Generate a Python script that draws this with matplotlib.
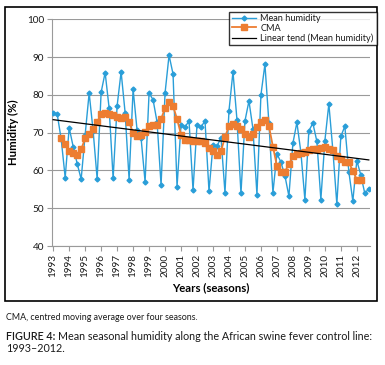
import matplotlib
matplotlib.use("Agg")
import matplotlib.pyplot as plt
from matplotlib.patches import Rectangle
import numpy as np

# Mean seasonal humidity (%), four seasons per year, 1993-2012
humidity = [
    75.2, 74.9, 68.3, 58.1, 71.3, 66.3, 61.8, 57.7,
    69.5, 80.5, 70.4, 57.8, 80.7, 85.9, 76.5, 57.9,
    77.1, 86.1, 75.3, 57.6, 81.5, 70.6, 68.5, 57.0,
    80.5, 78.7, 72.8, 56.1, 80.5, 90.5, 85.5, 55.7,
    72.1, 71.5, 73.1, 54.8, 72.1, 71.5, 73.1, 54.5,
    66.8, 66.4, 68.7, 54.1, 75.8, 86.1, 73.4, 53.9,
    73.1, 78.4, 71.0, 53.6, 80.0, 88.1, 72.5, 54.1,
    64.4, 62.2, 58.6, 53.2, 67.2, 72.7, 64.8, 52.3,
    70.5, 72.5, 67.7, 52.3, 67.8, 77.6, 65.4, 51.1,
    69.0, 71.7, 59.7, 51.9, 62.6, 58.8, 53.9, 55.2,
]
# centred moving average, starts at the 3rd season and ends two before the last
cma = [
    68.5, 67.1, 65.2, 64.7, 64.2, 65.6, 68.5, 69.6, 70.9, 72.9,
    74.9, 75.2, 74.9, 74.6, 74.2, 74.0, 74.2, 72.8, 69.9, 69.2,
    69.4, 70.3, 71.7, 71.9, 72.1, 73.6, 76.5, 78.1, 77.1, 73.6,
    69.5, 68.1, 68.0, 67.9, 67.9, 67.7, 67.2, 66.0, 65.1, 64.1,
    65.1, 68.8, 71.8, 72.3, 71.8, 70.9, 69.6, 68.9, 69.6, 71.6,
    72.9, 73.4, 71.7, 66.3, 61.2, 59.7, 59.7, 61.7, 63.7, 64.3,
    64.7, 64.9, 65.3, 65.6, 65.6, 65.9, 66.1, 65.6, 65.3, 63.7,
    63.0, 62.3, 62.1, 59.9, 57.6, 57.5,
]
years = list(range(1993, 2013))
cma_start = 2

BLUE = "#2A9ED8"
ORANGE = "#ED7D31"
GRID = "#9A9A9A"
DARK = "#1A1A1A"

plt.rcParams.update({
    "font.family": ["Lato", "DejaVu Sans"],
    "text.color": DARK,
})

W, H = 385, 365
fig = plt.figure(figsize=(W / 100, H / 100), dpi=100)


def px(x0, y0, x1, y1):
    # pixel box (top-left origin) -> figure fraction
    return [x0 / W, 1 - y1 / H, (x1 - x0) / W, (y1 - y0) / H]


ax = fig.add_axes(px(52, 19.3, 370, 246))

x = np.arange(len(humidity))
xc = np.arange(cma_start, cma_start + len(cma))
slope, icpt = np.polyfit(x, humidity, 1)

ax.plot(x, humidity, color=BLUE, lw=1.0, marker="D", ms=2.5,
        mfc=BLUE, mec=BLUE, label="Mean humidity", zorder=3)
ax.plot(xc, cma, color=ORANGE, lw=1.3, marker="s", ms=4.2,
        mfc=ORANGE, mec=ORANGE, label="CMA", zorder=4)
ax.plot(x, slope * x + icpt, color="black", lw=0.9,
        label="Linear tend (Mean humidity)", zorder=5)

ax.set_ylim(40, 100)
ax.set_yticks(range(40, 101, 10))
ax.set_xlim(-0.3, 79.3)
ax.set_xticks(range(0, len(humidity), 4))
ax.set_xticklabels([str(y) for y in years], rotation=90)
ax.tick_params(axis="both", labelsize=7.2, colors=GRID, labelcolor=DARK,
               length=3.5, width=0.8, pad=2)
ax.grid(axis="y", color=GRID, lw=0.8)
ax.set_axisbelow(True)
for s in ("top", "right"):
    ax.spines[s].set_visible(False)
for s in ("left", "bottom"):
    ax.spines[s].set_color(GRID)
    ax.spines[s].set_linewidth(0.8)

ax.set_ylabel("Humidity (%)", fontsize=8.2, fontweight="bold", labelpad=6)
ax.set_xlabel("Years (seasons)", fontsize=8.2, fontweight="bold", labelpad=4)

leg = fig.legend(loc="upper right", bbox_to_anchor=(376.5 / W, 1 - 11.5 / H),
                 fontsize=6.6, frameon=True, fancybox=False, borderpad=0.3,
                 labelspacing=0.05, handlelength=2.6, handletextpad=0.5,
                 borderaxespad=0)
leg.get_frame().set_edgecolor("black")
leg.get_frame().set_linewidth(1.0)

fig.patches.append(Rectangle((5 / W, 1 - 301 / H), 372 / W, 294 / H,
                             transform=fig.transFigure, fill=False,
                             edgecolor="black", lw=1.2))

fig.text(6 / W, 1 - 317 / H, "CMA, centred moving average over four seasons.",
         fontsize=6.4, va="center", ha="left")

# caption: bold label followed by the plain text right after it
lab = fig.text(6 / W, 1 - 337 / H, "FIGURE 4:", fontsize=7.75,
               fontweight="semibold", va="center", ha="left")
r = fig.canvas.get_renderer()
bb = lab.get_window_extent(renderer=r)
fig.text(bb.x1 / W + 3 / W, 1 - 337 / H,
         "Mean seasonal humidity along the African swine fever control line:",
         fontsize=7.75, va="center", ha="left")
fig.text(6 / W, 1 - 349 / H, "1993\u20132012.", fontsize=7.75, va="center",
         ha="left")

fig.savefig("out.png", dpi=100, facecolor="white")
